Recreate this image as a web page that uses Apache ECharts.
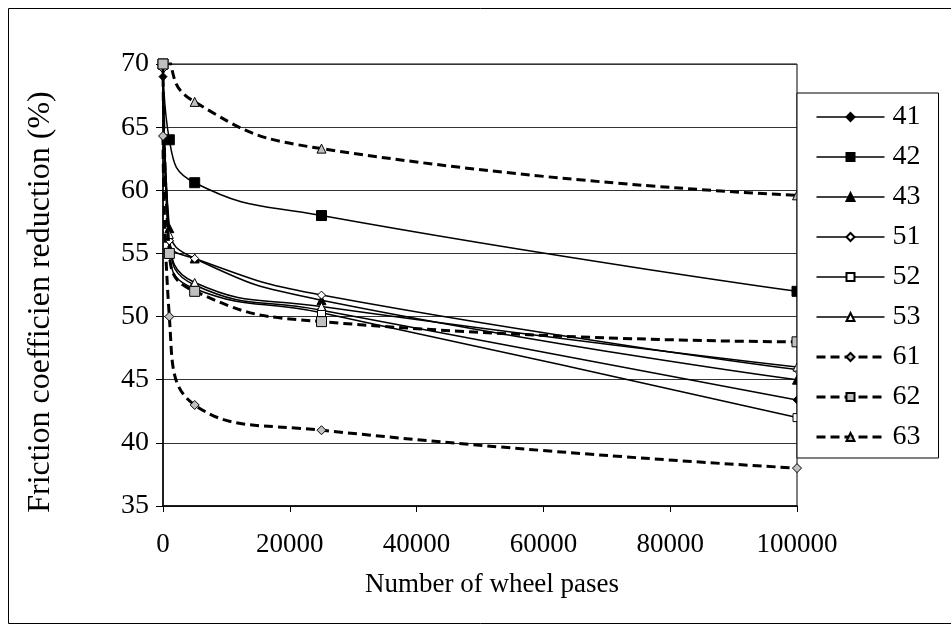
<!DOCTYPE html>
<html lang="en">
<head>
    <meta charset="UTF-8">
    <title>Friction coefficient reduction</title>
    <script src="https://cdn.jsdelivr.net/npm/echarts@6/dist/echarts.min.js"></script>
    <style>
        html, body { margin: 0; padding: 0; background: #fff; }
    </style>
</head>
<body>
    <div id="main" style="width:951px;height:630px;"></div>

    <script>
        // number of wheel passes (x values)
        const passes = [0, 1000, 5000, 25000, 100000];

        // friction coefficient reduction (%) per sample
        const s41 = [69.0, 56.0, 52.5, 50.5, 43.4];
        const s42 = [70.0, 64.0, 60.6, 58.0, 52.0];
        const s43 = [70.0, 57.0, 54.6, 51.3, 45.0];
        const s51 = [69.6, 56.0, 54.6, 51.7, 45.8];
        const s52 = [70.0, 55.0, 52.2, 50.3, 42.0];
        const s53 = [70.0, 56.5, 52.7, 50.8, 46.0];
        const s61 = [64.3, 50.0, 43.0, 41.0, 38.0];
        const s62 = [70.0, 55.0, 52.0, 49.6, 48.0];
        const s63 = [75.0, 70.5, 67.0, 63.3, 59.6];

        const seriesNames = ['41', '42', '43', '51', '52', '53', '61', '62', '63'];
        const seriesValues = [s41, s42, s43, s51, s52, s53, s61, s62, s63];

        const font = 'Liberation Serif';

        // marker style per series
        const markers = [
            { symbol: 'diamond', size: 8, fill: '#000' },
            { symbol: 'rect', size: 10, fill: '#000' },
            { symbol: 'triangle', size: 9, fill: '#000' },
            { symbol: 'diamond', size: 8, fill: '#fff' },
            { symbol: 'rect', size: 8, fill: '#fff' },
            { symbol: 'triangle', size: 8, fill: '#fff' },
            { symbol: 'diamond', size: 9, fill: '#c0c0c0' },
            { symbol: 'rect', size: 10, fill: '#c0c0c0' },
            { symbol: 'triangle', size: 9, fill: '#c0c0c0' }
        ];

        function pairs(values) {
            return passes.map(function (x, i) { return [x, values[i]]; });
        }

        const series = seriesNames.map(function (name, i) {
            const dashed = i >= 6;
            return {
                name: name,
                type: 'line',
                data: pairs(seriesValues[i]),
                smooth: 0.5,
                symbol: markers[i].symbol,
                symbolSize: markers[i].size,
                showAllSymbol: true,
                clip: true,
                z: dashed ? 3 : 2,
                lineStyle: {
                    color: '#000',
                    width: dashed ? 3 : 1.5,
                    type: dashed ? [9, 5] : 'solid'
                },
                itemStyle: {
                    color: markers[i].fill,
                    borderColor: '#000',
                    borderWidth: 1
                },
                emphasis: { disabled: true }
            };
        });

        // legend entries, dashed ones drawn thick like the plot
        const legendData = seriesNames.map(function (name, i) {
            return i >= 6
                ? { name: name, lineStyle: { width: 3, type: [9, 5] } }
                : { name: name, lineStyle: { width: 1.5 } };
        });

        const option = {
            backgroundColor: '#fff',
            animation: false,
            graphic: [{
                type: 'rect',
                shape: { x: 8.5, y: 8.5, width: 960, height: 615 },
                style: { fill: 'none', stroke: '#000', lineWidth: 1 },
                silent: true
            }],
            grid: {
                left: 163,
                right: 154,
                top: 64,
                bottom: 124,
                show: true,
                borderColor: '#000',
                borderWidth: 1
            },
            legend: {
                orient: 'vertical',
                left: 797,
                top: 93,
                padding: [10, 18, 7, 18],
                backgroundColor: '#fff',
                borderColor: '#000',
                borderWidth: 1,
                itemWidth: 68,
                itemHeight: 10,
                itemGap: 12,
                data: legendData,
                textStyle: { fontFamily: font, fontSize: 28, lineHeight: 28, color: '#000', padding: [0, 0, 0, 3] }
            },
            xAxis: {
                type: 'value',
                min: 0,
                max: 100000,
                interval: 20000,
                name: 'Number of wheel pases',
                nameLocation: 'middle',
                nameGap: 65,
                nameTextStyle: { fontFamily: font, fontSize: 27, color: '#000', padding: [0, 0, 0, 24] },
                axisLine: { lineStyle: { color: '#000', width: 1.5 } },
                axisTick: { show: true, length: 6, lineStyle: { color: '#000' } },
                axisLabel: {
                    fontFamily: font, fontSize: 27, color: '#000', margin: 25,
                    formatter: function (v) { return String(v); }
                },
                splitLine: { show: false }
            },
            yAxis: {
                type: 'value',
                min: 35,
                max: 70,
                interval: 5,
                name: 'Friction coefficien reduction (%)',
                nameLocation: 'middle',
                nameRotate: 90,
                nameGap: 106,
                nameTextStyle: { fontFamily: font, fontSize: 32, color: '#000', padding: [0, 34, 0, 0] },
                axisLine: { show: true, lineStyle: { color: '#000', width: 1.5 } },
                axisTick: { show: true, length: 7, lineStyle: { color: '#000' } },
                axisLabel: { fontFamily: font, fontSize: 28, color: '#000', margin: 14 },
                splitLine: { show: true, lineStyle: { color: '#333', width: 1 } }
            },
            series: series
        };

        var myChart = echarts.init(document.getElementById('main'));
        myChart.setOption(option);
    </script>
</body>
</html>
